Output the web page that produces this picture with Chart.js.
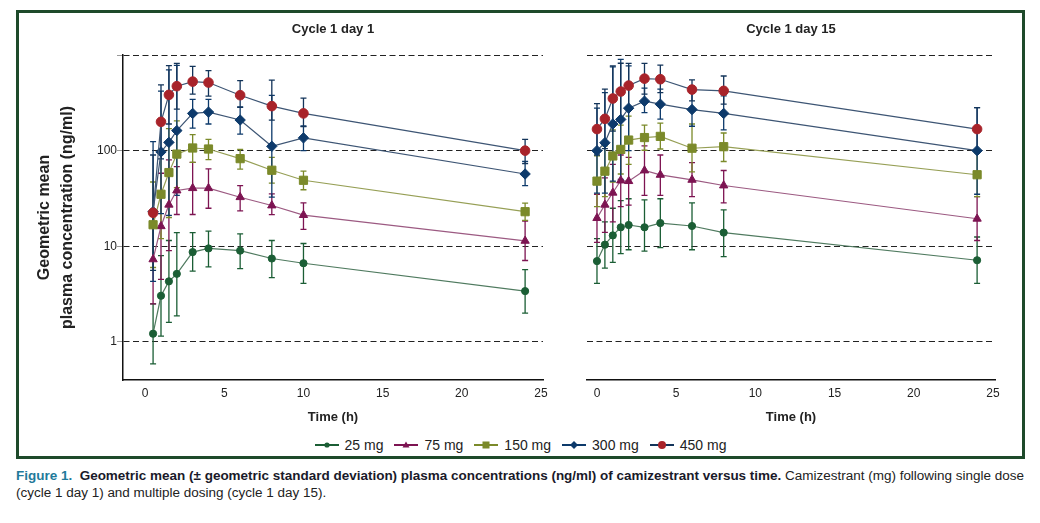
<!DOCTYPE html>
<html>
<head>
<meta charset="utf-8">
<script src="https://cdn.jsdelivr.net/npm/chart.js@4.4.1/dist/chart.umd.min.js"></script>
<style>
  html, body { margin:0; padding:0; background:#fff; }
  body { width:1040px; height:523px; position:relative; overflow:hidden; font-family:'Liberation Sans', Arial, sans-serif; }
  #frame { position:absolute; left:16px; top:10px; width:1003px; height:443px; border:3px solid #1e4a2a; }
  canvas { position:absolute; top:0; }
  #c1 { left:0; }
  #c2 { left:560px; }
  #legend { position:absolute; left:0; width:1040px; top:436px; height:18px; display:flex; justify-content:center; align-items:center; font-size:14px; color:#222; }
  #legend .item { display:flex; align-items:center; margin:0 5px; }
  #legend svg { margin-right:5px; }
  #cap { position:absolute; left:16px; top:468px; width:1010px; font-size:12.5px; line-height:17px; color:#222; }
  #cap .ln { white-space:nowrap; display:inline-block; transform-origin:left top; }
</style>
</head>
<body>
<div id="frame"></div>
<canvas id="c1" width="560" height="430"></canvas>
<canvas id="c2" width="480" height="430"></canvas>
<div id="legend"></div>
<div id="cap">
  <div class="ln" id="l1"><span style="color:#1f7a9a;font-weight:bold">Figure 1.</span>&nbsp; <b style="color:#1a1a2a">Geometric mean (± geometric standard deviation) plasma concentrations (ng/ml) of camizestrant versus time.</b> Camizestrant (mg) following single dose</div><br>
  <div class="ln" id="l2">(cycle 1 day 1) and multiple dosing (cycle 1 day 15).</div>
</div>
<script>
// ---------- data ----------
const seriesNames = ['25 mg', '75 mg', '150 mg', '300 mg', '450 mg'];
const panelTitles = ['Cycle 1 day 1', 'Cycle 1 day 15'];
const xTicks = [0, 5, 10, 15, 20, 25];
const yTicks = [1, 10, 100, 1000];
const yTickLabels = ['1', '10', '100', ''];

const timesDay1  = [0.5, 1, 1.5, 2, 3, 4, 6, 8, 10, 24];
const timesDay15 = [0, 0.5, 1, 1.5, 2, 3, 4, 6, 8, 24];

// Cycle 1 day 1
const d1_25    = [1.22, 3.04, 4.3, 5.15, 8.7, 9.5, 9.0, 7.45, 6.65, 3.4];
const d1_25lo  = [0.59, 1.15, 1.6, 1.87, 5.5, 6.1, 5.85, 4.7, 4.1, 2.0];
const d1_25hi  = [2.5, 8.0, 11.5, 13.9, 13.9, 14.4, 13.5, 11.5, 10.7, 5.7];
const d1_75    = [7.3, 16.2, 27.2, 38.3, 40.5, 40.5, 32.6, 26.7, 21.2, 11.4];
const d1_75lo  = [2.5, 4.5, 9, 21.5, 21.5, 25, 23.5, 21.4, 15, 7.1];
const d1_75hi  = [21, 58, 80, 68, 75.5, 64.4, 43, 35.4, 28.5, 18.3];
const d1_150   = [16.8, 35, 59, 92, 106.6, 104, 82.5, 62.4, 49, 23];
const d1_150lo = [6, 12, 20, 41, 75.5, 80.5, 64, 45.7, 39, 18.7];
const d1_150hi = [47, 100, 170, 205, 147, 131, 103, 85, 61, 28.3];
const d1_300   = [23, 97, 122, 162, 245, 253, 209, 111, 136, 57];
const d1_300lo = [4.3, 22, 21, 34, 172, 190, 149, 32.6, 100, 43];
const d1_300hi = [124, 420, 700, 780, 343, 343, 287, 378, 181, 77];
const d1_450   = [22.4, 200, 383, 472, 527, 515, 380, 292, 245, 100];
const d1_450lo = [5.6, 82, 190, 272, 389, 371, 283, 209, 178, 73];
const d1_450hi = [90, 487, 774, 819, 762, 687, 540, 545, 354, 131];

// Cycle 1 day 15
const d15_25    = [7.0, 10.4, 13, 15.8, 16.7, 15.8, 17.5, 16.3, 13.9, 7.15];
const d15_25lo  = [4.1, 5.9, 6.8, 8.4, 9.2, 8.9, 9.7, 9.2, 7.8, 4.1];
const d15_25hi  = [12, 18, 25, 30, 31.4, 30.6, 31.4, 28.5, 24, 12.5];
const d15_75    = [19.7, 27.2, 36.3, 48.7, 48, 62, 55.8, 49.5, 43.2, 19.4];
const d15_75lo  = [11, 14, 18, 26, 27, 34, 34, 33, 28.5, 11.5];
const d15_75hi  = [35, 52, 72, 90, 85, 112, 90, 75, 62, 33];
const d15_150   = [48, 61, 88, 103, 129, 137, 141, 106, 110, 56];
const d15_150lo = [26, 33, 47, 57, 72, 101, 104, 60, 77, 33];
const d15_150hi = [88, 112, 165, 185, 230, 185, 194, 190, 153, 95];
const d15_300   = [100, 121, 190, 212, 278, 329, 306, 269, 245, 100];
const d15_300lo = [36, 36, 48, 50, 100, 250, 214, 180, 165, 35];
const d15_300hi = [278, 405, 750, 902, 768, 450, 440, 400, 374, 282];
const d15_450   = [168, 215, 351, 415, 479, 566, 558, 435, 422, 168];
const d15_450lo = [90, 105, 160, 210, 280, 390, 405, 331, 306, 100];
const d15_450hi = [310, 440, 770, 820, 819, 819, 782, 550, 603, 282];

// ---------- styles ----------
const pointColors = ['#1b5e35', '#7d1452', '#7b8a2a', '#0d3a6b', '#a8232a'];
const lineColors  = ['#4f7a5f', '#9c5a82', '#969f55', '#3d5574', '#3d5574'];
const errColors   = ['#1b5e35', '#7d1452', '#7b8a2a', '#0d3a6b', '#13345a'];
const pointStyles = ['circle', 'triangle', 'rect', 'rectRot', 'circle'];
const pointRadii  = [3.6, 4.8, 5.8, 5.2, 4.8];
const FONT = "'Liberation Sans', Arial, sans-serif";

Chart.defaults.font.family = FONT;
Chart.defaults.color = '#222';
Chart.defaults.animation = false;

const errorBars = {
  id: 'errorBars',
  beforeDatasetsDraw(chart) {
    const { ctx, chartArea: a, scales: { x, y } } = chart;
    ctx.save();
    ctx.beginPath();
    ctx.rect(a.left, a.top, a.right - a.left, a.bottom - a.top);
    ctx.clip();
    chart.data.datasets.forEach(ds => {
      ctx.strokeStyle = ds.errColor;
      ctx.lineWidth = 1.3;
      ds.data.forEach((p, i) => {
        const px = x.getPixelForValue(p.x);
        const p1 = y.getPixelForValue(ds.errLo[i]);
        const p2 = y.getPixelForValue(ds.errHi[i]);
        ctx.beginPath();
        ctx.moveTo(px, p1); ctx.lineTo(px, p2);
        ctx.moveTo(px - 3, p1); ctx.lineTo(px + 3, p1);
        ctx.moveTo(px - 3, p2); ctx.lineTo(px + 3, p2);
        ctx.stroke();
      });
    });
    ctx.restore();
  }
};

function makeDatasets(times, vals, los, his) {
  return vals.map((v, k) => ({
    label: seriesNames[k],
    data: times.map((t, i) => ({ x: t, y: v[i] })),
    errLo: los[k], errHi: his[k], errColor: errColors[k],
    borderColor: lineColors[k], borderWidth: 1.2,
    backgroundColor: pointColors[k], pointBackgroundColor: pointColors[k],
    pointBorderColor: pointColors[k], pointBorderWidth: 1,
    pointStyle: pointStyles[k], pointRadius: pointRadii[k],
    showLine: true, tension: 0, order: 4 - k
  }));
}

function makeOptions(left, xmin, padRight, yW) {
  return {
    responsive: false,
    animation: false,
    layout: { padding: { left: 0, right: padRight, top: 0, bottom: 0 } },
    plugins: {
      legend: { display: false },
      tooltip: { enabled: false },
      title: {
        display: true, text: left ? panelTitles[0] : panelTitles[1], fullSize: false,
        font: { size: 13, weight: 'bold', family: FONT }, color: '#222',
        padding: { top: 22, bottom: 17.4 }
      }
    },
    scales: {
      x: {
        type: 'linear', min: xmin, max: 25.13,
        afterBuildTicks: s => { s.ticks = xTicks.map(v => ({ value: v })); },
        afterFit: s => { s.height = 50; },
        grid: { display: false, drawTicks: false },
        border: { display: true, color: '#111', width: 1.5 },
        ticks: { padding: 6, font: { size: 12, family: FONT }, color: '#222' },
        title: { display: true, text: 'Time (h)', font: { size: 13, weight: 'bold', family: FONT }, color: '#222', padding: { top: 0, bottom: 5.2 } }
      },
      y: {
        type: 'logarithmic', min: 0.4, max: 1000,
        afterBuildTicks: s => { s.ticks = yTicks.map(v => ({ value: v })); },
        afterFit: s => { s.width = yW; },
        grid: { color: '#222', lineWidth: 1, drawTicks: left, tickLength: 6, tickColor: '#999' },
        border: { display: left, color: '#111', width: 1.5, dash: [6, 3.5] },
        ticks: { display: left, padding: 0, font: { size: 12, family: FONT }, color: '#222',
                 callback: (v, i) => yTickLabels[i] },
        title: left ? { display: true, text: ['Geometric mean', 'plasma concentration (ng/ml)'],
                 font: { size: 16, weight: 'bold', family: FONT, lineHeight: 1.4375 }, color: '#222',
                 padding: { top: 33.5, bottom: 0 } } : { display: false }
      }
    }
  };
}

new Chart(document.getElementById('c1'), {
  type: 'scatter',
  data: { datasets: makeDatasets(timesDay1,
    [d1_25, d1_75, d1_150, d1_300, d1_450],
    [d1_25lo, d1_75lo, d1_150lo, d1_300lo, d1_450lo],
    [d1_25hi, d1_75hi, d1_150hi, d1_300hi, d1_450hi]) },
  options: makeOptions(true, -1.4, 17, 123),
  plugins: [errorBars]
});

new Chart(document.getElementById('c2'), {
  type: 'scatter',
  data: { datasets: makeDatasets(timesDay15,
    [d15_25, d15_75, d15_150, d15_300, d15_450],
    [d15_25lo, d15_75lo, d15_150lo, d15_300lo, d15_450lo],
    [d15_25hi, d15_75hi, d15_150hi, d15_300hi, d15_450hi]) },
  options: makeOptions(false, -0.63, 45, 27),
  plugins: [errorBars]
});

// ---------- legend ----------
function markerSvg(k) {
  const c = pointColors[k], cx = 13, cy = 5;
  const s = pointStyles[k];
  let m = '';
  if (s === 'circle') m = `<circle cx="${cx}" cy="${cy}" r="${k === 4 ? 4 : 2.6}" fill="${c}"/>`;
  else if (s === 'triangle') m = `<polygon points="${cx},${cy-3.5} ${cx+3.5},${cy+2.5} ${cx-3.5},${cy+2.5}" fill="${c}"/>`;
  else if (s === 'rect') m = `<rect x="${cx-3.5}" y="${cy-3.5}" width="7" height="7" fill="${c}"/>`;
  else m = `<polygon points="${cx},${cy-4} ${cx+4},${cy} ${cx},${cy+4} ${cx-4},${cy}" fill="${c}"/>`;
  return `<svg width="26" height="10"><line x1="1" y1="5" x2="25" y2="5" stroke="${errColors[k]}" stroke-width="2"/>${m}</svg>`;
}
const lg = document.getElementById('legend');
seriesNames.forEach((n, k) => {
  const d = document.createElement('div');
  d.className = 'item';
  d.innerHTML = markerSvg(k) + '<span>' + n + '</span>';
  lg.appendChild(d);
});

// ---------- caption fit ----------
const l1 = document.getElementById('l1'), l2 = document.getElementById('l2');
const sc = 1008 / l1.getBoundingClientRect().width;
l1.style.transform = `scaleX(${sc})`;
l2.style.transform = `scaleX(${sc})`;
</script>
</body>
</html>
